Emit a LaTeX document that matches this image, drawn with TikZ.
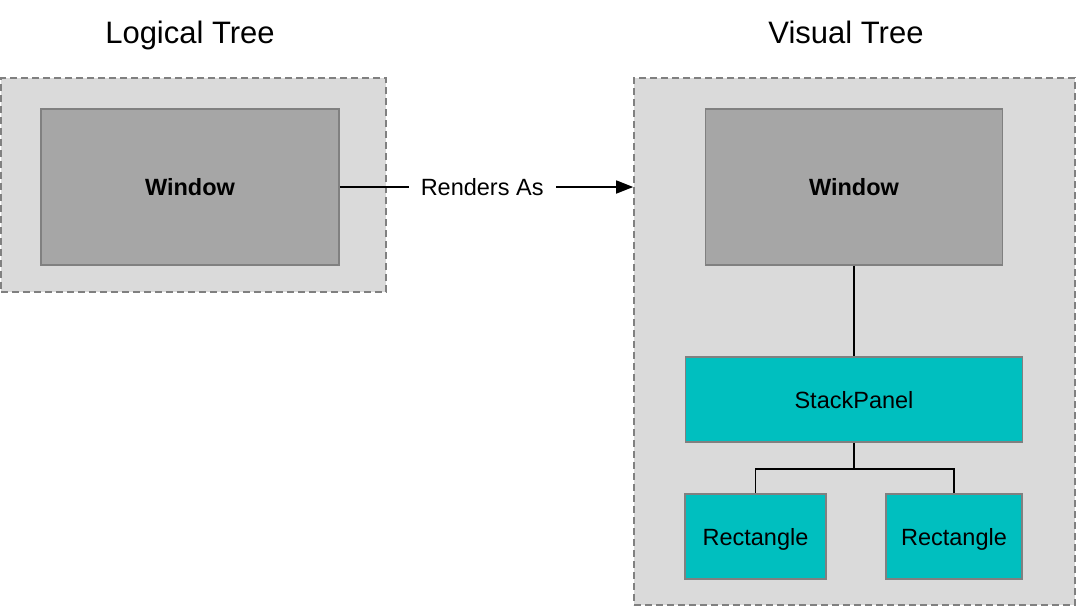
\documentclass[tikz,border=0pt]{standalone}
\usepackage{fontspec}
\setmainfont{Liberation Sans}
\usetikzlibrary{arrows.meta}
\definecolor{contfill}{HTML}{DADADA}
\definecolor{contline}{HTML}{808080}
\definecolor{winfill}{HTML}{A6A6A6}
\definecolor{tealfill}{HTML}{00BFBF}
\tikzset{
  container/.style={draw=contline, fill=contfill, line width=1.6pt, dash pattern=on 7pt off 4pt, inner sep=0pt},
  box/.style={draw=contline, line width=1.8pt, inner sep=0pt, text height=17pt, text depth=0pt,
              font=\fontsize{23.5}{28}\selectfont},
  winbox/.style={box, fill=winfill, font=\fontsize{23.5}{28}\selectfont\bfseries},
  tealbox/.style={box, fill=tealfill},
  title/.style={font=\fontsize{31}{36}\selectfont, anchor=base, inner sep=0pt},
  conn/.style={draw=black, line width=1.6pt},
  lbl/.style={fill=white, inner xsep=12pt, inner ysep=4pt, text height=17pt, text depth=0pt,
              font=\fontsize{23.5}{28}\selectfont}
}
\begin{document}
\begin{tikzpicture}[x=1pt,y=-1pt]
\useasboundingbox (0,0) rectangle (1076,606);
% titles
\node[title] (t1) at (190,43) {Logical Tree};
\node[title] (t2) at (846,43) {Visual Tree};
% containers
\node[container, minimum width=385pt, minimum height=214pt] (lc) at (193.5,185) {};
\node[container, minimum width=441pt, minimum height=527pt] (rc) at (854.5,341.5) {};
% boxes
\node[winbox, minimum width=298pt, minimum height=156pt] (lw) at (190,187) {Window};
\node[winbox, minimum width=297pt, minimum height=156pt] (rw) at (854,187) {Window};
\node[tealbox, minimum width=337pt, minimum height=85pt] (sp) at (854,399.5) {StackPanel};
\node[tealbox, minimum width=141pt, minimum height=85pt] (r1) at (755.5,536.5) {Rectangle};
\node[tealbox, minimum width=136pt, minimum height=85pt] (r2) at (954,536.5) {Rectangle};
% connectors
\draw[conn, -{Triangle[length=17pt,width=13pt]}] (lw.east) -- (rc.west |- lw.east)
  node[lbl, pos=0.485] (ra) {Renders As};
\draw[conn] (rw.south) -- (sp.north);
\coordinate (j) at ([yshift=-26pt]sp.south);
\draw[conn] (sp.south) -- (j) -| (r1.north);
\draw[conn] (j) -| (r2.north);
\end{tikzpicture}
\end{document}
